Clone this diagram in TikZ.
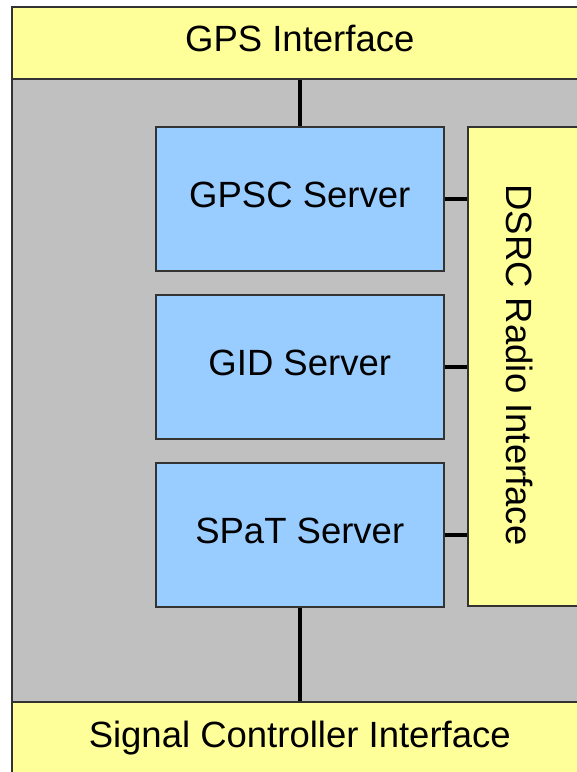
\documentclass[tikz,border=0pt]{standalone}
\usepackage{fontspec}
\setmainfont{Liberation Sans}
\usetikzlibrary{positioning}
\definecolor{ifyellow}{HTML}{FFFF99}
\definecolor{srvblue}{HTML}{99CCFF}
\definecolor{backgray}{HTML}{C0C0C0}
\definecolor{edgegray}{HTML}{333333}

\begin{document}
\begin{tikzpicture}[x=1pt, y=-1pt,
        box/.style={draw=edgegray, line width=1.5pt, inner sep=0pt,
                    text height=26pt, text depth=8pt,
                    font=\fontsize{36.5}{44}\selectfont},
        iface/.style={box, fill=ifyellow},
        server/.style={box, fill=srvblue, anchor=north west,
                       minimum width=288pt, minimum height=144pt},
        link/.style={draw, line width=4pt}]

    \useasboundingbox (0,0) rectangle (577,772);
    \clip (0,0) rectangle (577,772);

    % Gray backdrop
    \node[box, fill=backgray, anchor=north west,
          minimum width=576pt, minimum height=623pt] (back) at (11,78) {};

    % Interface bars
    \node[iface, anchor=north west, minimum width=576pt, minimum height=72pt]
        (gps) at (11,6) {GPS Interface};
    \node[iface, anchor=north west, minimum width=576pt, minimum height=74pt]
        (sigctl) at (11,701) {Signal Controller Interface};
    \node[iface, anchor=north west, minimum width=120pt, minimum height=479pt]
        (dsrc) at (467,126) {};
    \node[rotate=-90, inner sep=0pt, font=\fontsize{36.5}{44}\selectfont]
        (dsrclabel) at (520,365) {DSRC Radio Interface};

    % Servers
    \node[server] (gpsc) at (155,126) {GPSC Server};
    \node[server] (gid) at (155,294) {GID Server};
    \node[server] (spat) at (155,462) {SPaT Server};

    % Connections
    \draw[link] (gps.south) -- (gpsc.north);
    \draw[link] (spat.south) -- (sigctl.north);
    \foreach \srv in {gpsc, gid, spat}
        \draw[link] (\srv.east) -- (\srv.east -| dsrc.west);

\end{tikzpicture}
\end{document}
